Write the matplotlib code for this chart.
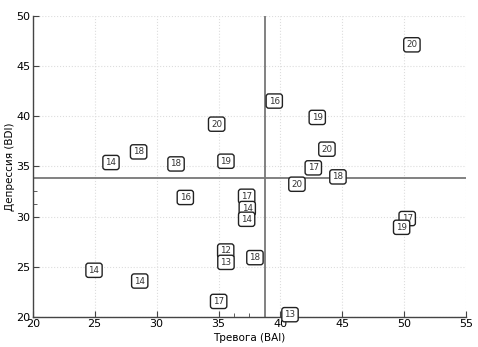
import numpy as np
import matplotlib
matplotlib.use("Agg")
import matplotlib.pyplot as plt

# значения
bai = [34.85, 28.55, 26.32, 31.57, 35.6, 50.61, 39.5, 42.97, 43.75, 42.65,
       44.64, 41.33, 37.27, 37.32, 37.27, 37.94, 50.23, 49.78, 40.77,
       32.32, 35.58, 35.6, 24.95, 28.64, 35.01]
bdi = [39.2, 36.44, 35.38, 35.24, 35.51, 47.1, 41.5, 39.87, 36.71, 34.85,
       33.95, 33.22, 32.02, 30.8, 29.73, 25.91, 29.8, 28.93, 20.23,
       31.9, 26.57, 25.44, 24.65, 23.58, 21.55]
labels = ['20', '18', '14', '18', '19', '20', '16', '19', '20', '17',
          '18', '20', '17', '14', '14', '18', '17', '19', '13',
          '16', '12', '13', '14', '14', '17']
mean_bai = 38.75
mean_bdi = 33.85

fig = plt.figure(figsize=(4.78, 3.47), dpi=100)
ax = fig.add_axes([0.0684, 0.0865, 0.9071, 0.8683])

ax.set_xlim(20, 55)
ax.set_ylim(20, 50)
ax.set_xticks(np.arange(20, 56, 5))
ax.set_yticks(np.arange(20, 51, 5))
ax.set_xticks([36.25, 37.5], minor=True)
ax.set_yticks([31.25, 32.5], minor=True)
ax.grid(True, color='#dddddd', linestyle=':', linewidth=0.8)
ax.set_axisbelow(True)

for s in ['top', 'right']:
    ax.spines[s].set_visible(False)
for s in ['left', 'bottom']:
    ax.spines[s].set_color('#444444')
    ax.spines[s].set_linewidth(1.0)
ax.tick_params(which='major', direction='in', length=4, color='#444444',
               labelsize=8, pad=1.5)
ax.tick_params(which='minor', direction='in', length=3, color='#444444')

ax.axvline(mean_bai, color='#777777', lw=1.3, zorder=2)
ax.axhline(mean_bdi, color='#777777', lw=1.3, zorder=2)

for x, y, t in zip(bai, bdi, labels):
    ax.text(x, y, t, ha='center', va='center', fontsize=6.3, color='#333333',
            zorder=3,
            bbox=dict(boxstyle='round,pad=0.3,rounding_size=0.3',
                      fc='white', ec='#222222', lw=1.0))

ax.set_xlabel('Тревога (BAI)', fontsize=7.5, labelpad=3)
ax.set_ylabel('Депрессия (BDI)', fontsize=7.5, labelpad=1)

fig.savefig('out.png', dpi=100)
